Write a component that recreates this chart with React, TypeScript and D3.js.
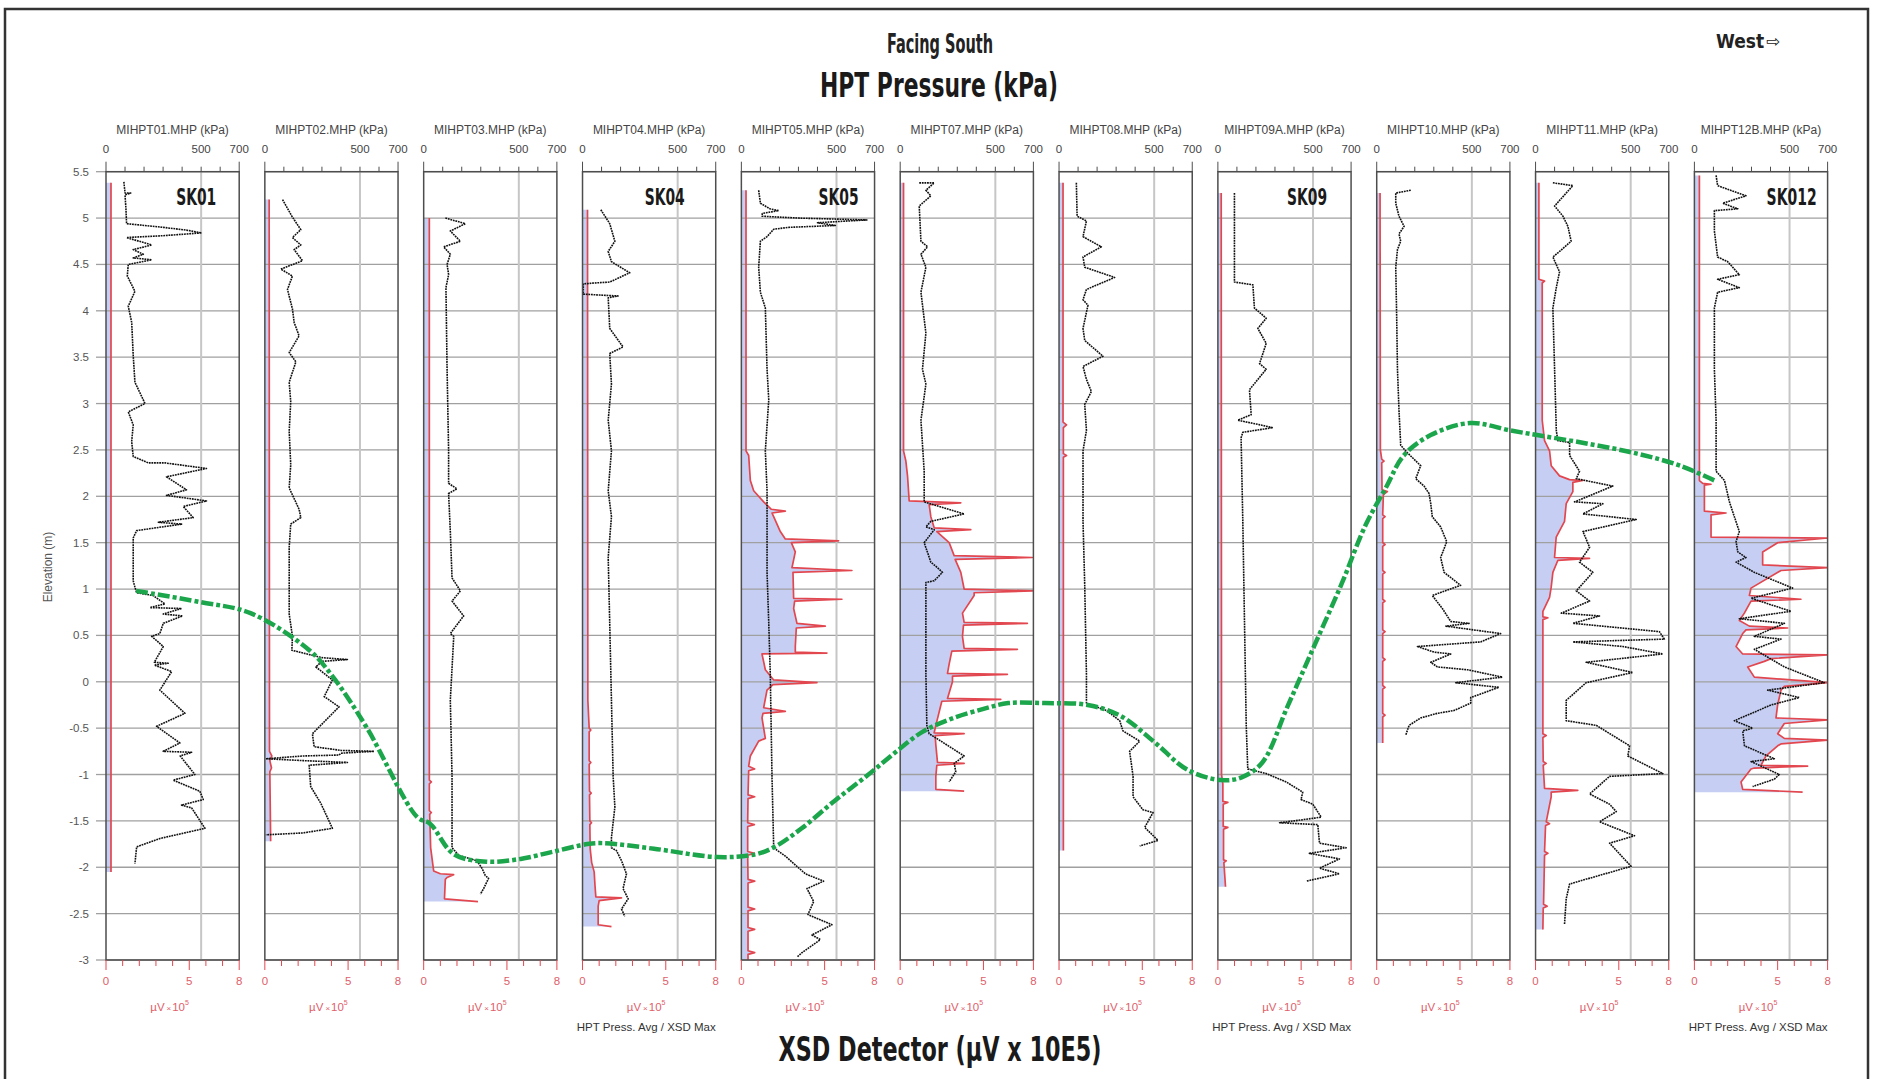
// HPT pressure / XSD detector cross-section, facing south.
// Eleven side-by-side boreholes sharing one elevation axis; each panel has a
// dotted pressure trace (kPa, top axis) and a filled XSD trace (µV x 10^5,
// bottom axis). A dash-dot contour links the HPT avg / XSD max pick across
// panels.
import * as d3 from "d3";

type Pt = [number, number];

const PANELS = ["MIHPT01", "MIHPT02", "MIHPT03", "MIHPT04", "MIHPT05", "MIHPT07", "MIHPT08", "MIHPT09A", "MIHPT10", "MIHPT11", "MIHPT12B"];
const SITE_LABELS: [string, number][] = [["SK01", 0], ["SK04", 3], ["SK05", 4], ["SK09", 7], ["SK012", 10]];
const FOOT_PANELS = [3, 7, 10];
const ELEV_TICKS = [5.5, 5, 4.5, 4, 3.5, 3, 2.5, 2, 1.5, 1, 0.5, 0, -0.5, -1, -1.5, -2, -2.5, -3];
const KPA_TICKS = [0, 100, 200, 300, 400, 500, 600, 700];
const KPA_LABELS = [0, 500, 700];
const UV_TICKS = [0, 1, 2, 3, 4, 5, 6, 7, 8];
const UV_LABELS = [0, 5, 8];

// [elevation m, kPa]
const hpt01: Pt[] = [[5.39,94],[5.27,100],[5.27,130],[5.25,100],[5.09,105],[4.94,108],[4.9,300],[4.87,423],[4.84,502],[4.81,300],[4.79,108],[4.71,240],[4.66,143],[4.61,196],[4.57,143],[4.55,240],[4.5,117],[4.375,112],[4.21,152],[4.05,117],[3.875,135],[3.52,143],[3.23,152],[3.0,205],[2.91,117],[2.77,143],[2.59,135],[2.43,143],[2.36,222],[2.36,310],[2.3,528],[2.21,318],[2.07,423],[2.01,318],[1.95,528],[1.89,406],[1.77,458],[1.72,275],[1.7,397],[1.63,161],[1.55,143],[1.09,143],[1.02,152],[0.96,161],[0.93,248],[0.84,310],[0.8,231],[0.79,397],[0.73,301],[0.71,402],[0.63,301],[0.52,283],[0.49,240],[0.38,301],[0.21,254],[0.2,327],[0.18,254],[0.11,345],[-0.09,283],[-0.34,415],[-0.48,266],[-0.66,388],[-0.75,301],[-0.76,450],[-0.8,390],[-1.0,467],[-1.06,353],[-1.18,493],[-1.27,511],[-1.33,397],[-1.36,450],[-1.58,520],[-1.69,283],[-1.78,161],[-1.96,152]];
const hpt02: Pt[] = [[5.2,93],[5.02,142],[4.875,189],[4.79,145],[4.71,189],[4.66,154],[4.54,198],[4.45,84],[4.375,145],[4.23,119],[4.02,145],[3.875,154],[3.73,180],[3.55,128],[3.45,163],[3.23,128],[3.02,136],[2.7,128],[2.34,136],[2.09,128],[1.86,180],[1.77,189],[1.7,136],[1.45,128],[0.73,128],[0.49,145],[0.34,142],[0.26,300],[0.24,434],[0.22,300],[0.16,268],[0.02,355],[-0.16,312],[-0.27,390],[-0.56,250],[-0.7,259],[-0.74,400],[-0.75,574],[-0.77,400],[-0.79,390],[-0.8,200],[-0.83,5],[-0.85,200],[-0.87,434],[-0.9,233],[-1.13,241],[-1.31,294],[-1.58,355],[-1.63,200],[-1.65,5]];
const hpt03: Pt[] = [[5.0,114],[4.94,219],[4.86,140],[4.75,193],[4.69,105],[4.61,140],[4.5,123],[4.39,131],[4.25,117],[3.37,123],[2.49,131],[2.14,131],[2.08,175],[2.03,131],[1.62,140],[1.12,149],[0.98,193],[0.87,149],[0.71,210],[0.52,140],[0.49,158],[-0.2,140],[-1.02,149],[-1.79,149],[-1.87,184],[-1.93,280],[-2.01,306],[-2.09,324],[-2.12,341],[-2.23,315],[-2.29,298]];
const hpt04: Pt[] = [[5.09,96],[4.94,143],[4.75,170],[4.64,135],[4.53,152],[4.41,248],[4.31,143],[4.3,60],[4.29,4],[4.18,4],[4.17,90],[4.16,187],[4.14,135],[3.81,143],[3.61,213],[3.54,143],[3.21,152],[2.82,135],[2.49,152],[2.06,135],[1.78,152],[1.34,135],[0.63,143],[-0.2,152],[-1.02,161],[-1.35,170],[-1.68,152],[-1.79,152],[-1.82,178],[-1.93,205],[-2.07,231],[-2.23,213],[-2.34,240],[-2.45,205],[-2.53,222]];
const hpt05: Pt[] = [[5.3,91],[5.16,100],[5.1,150],[5.08,196],[5.05,110],[5.02,109],[5.0,300],[4.98,660],[4.95,400],[4.92,494],[4.9,250],[4.88,170],[4.8,135],[4.75,100],[4.47,91],[4.2,100],[4.03,126],[3.37,135],[3.04,144],[2.49,126],[2.06,135],[1.18,135],[0.63,144],[0.08,152],[-1.02,161],[-1.79,170],[-1.88,231],[-2.07,336],[-2.15,432],[-2.23,345],[-2.37,380],[-2.51,350],[-2.62,476],[-2.73,371],[-2.78,415],[-2.92,319],[-2.97,292]];
const hpt07: Pt[] = [[5.38,100],[5.38,179],[5.3,135],[5.24,161],[5.13,100],[4.75,109],[4.69,144],[4.61,109],[4.47,135],[4.2,109],[3.76,135],[3.37,117],[3.21,135],[2.82,109],[2.27,126],[1.94,126],[1.81,336],[1.73,161],[1.67,135],[1.64,179],[1.5,126],[1.29,161],[1.23,196],[1.18,222],[1.09,179],[1.07,135],[0.08,135],[-0.47,140],[-0.56,152],[-0.64,214],[-0.8,336],[-0.88,284],[-0.97,292],[-1.08,257]];
const hpt08: Pt[] = [[5.38,91],[5.02,95],[4.97,144],[4.8,126],[4.69,222],[4.58,126],[4.47,135],[4.36,292],[4.23,144],[4.12,126],[4.06,152],[3.81,126],[3.68,135],[3.51,231],[3.4,126],[3.26,144],[3.13,170],[2.99,135],[2.71,144],[2.49,126],[1.73,126],[1.04,135],[0.08,144],[-0.23,144],[-0.31,249],[-0.42,319],[-0.53,336],[-0.64,424],[-0.75,371],[-1.02,389],[-1.24,389],[-1.38,441],[-1.41,494],[-1.57,450],[-1.71,520],[-1.77,424]];
const hpt09a: Pt[] = [[5.27,87],[4.31,87],[4.28,184],[4.03,192],[3.92,254],[3.81,210],[3.65,254],[3.43,219],[3.37,254],[3.26,210],[3.15,166],[2.88,175],[2.82,105],[2.78,200],[2.74,289],[2.69,131],[2.63,122],[1.73,131],[0.63,140],[-0.47,149],[-0.94,157],[-0.99,254],[-1.08,359],[-1.19,446],[-1.27,437],[-1.32,499],[-1.46,543],[-1.5,400],[-1.52,324],[-1.54,525],[-1.74,534],[-1.79,674],[-1.85,481],[-1.91,639],[-2.01,534],[-2.07,639],[-2.15,464]];
const hpt10: Pt[] = [[5.3,179],[5.27,100],[5.16,100],[5.02,117],[4.91,144],[4.83,117],[4.75,126],[4.66,109],[4.47,100],[3.92,105],[3.37,109],[2.93,117],[2.55,126],[2.47,161],[2.33,231],[2.19,205],[2.11,249],[2.03,275],[1.92,284],[1.78,292],[1.67,336],[1.51,368],[1.34,336],[1.18,354],[1.04,441],[0.93,292],[0.79,345],[0.65,389],[0.63,485],[0.6,364],[0.52,651],[0.43,546],[0.38,214],[0.32,301],[0.3,389],[0.21,284],[0.16,319],[0.13,476],[0.05,660],[-0.01,415],[-0.06,642],[-0.17,494],[-0.23,494],[-0.31,406],[-0.34,319],[-0.39,231],[-0.47,170],[-0.58,152]];
const hpt11: Pt[] = [[5.38,91],[5.35,196],[5.13,100],[5.02,144],[4.91,170],[4.75,187],[4.64,126],[4.58,91],[4.42,126],[4.25,109],[4.03,91],[3.37,100],[2.71,109],[2.6,117],[2.58,179],[2.44,179],[2.27,231],[2.19,214],[2.11,406],[1.94,205],[1.92,354],[1.81,249],[1.75,529],[1.62,249],[1.45,284],[1.29,231],[1.18,301],[0.98,214],[0.87,284],[0.74,135],[0.71,336],[0.63,196],[0.54,651],[0.46,677],[0.43,196],[0.38,459],[0.3,669],[0.21,266],[0.1,511],[-0.01,266],[-0.2,161],[-0.42,161],[-0.47,319],[-0.69,494],[-0.8,485],[-0.99,669],[-1.02,389],[-1.21,284],[-1.32,389],[-1.4,424],[-1.51,336],[-1.66,520],[-1.74,389],[-1.99,502],[-2.18,179],[-2.34,161],[-2.62,152]];
const hpt12b: Pt[] = [[5.46,114],[5.35,122],[5.24,271],[5.16,149],[5.1,228],[5.08,105],[4.86,105],[4.58,122],[4.53,175],[4.39,236],[4.34,122],[4.25,236],[4.2,122],[4.03,105],[3.37,105],[2.82,114],[2.27,114],[2.17,158],[1.94,184],[1.78,210],[1.62,236],[1.51,219],[1.4,228],[1.34,271],[1.29,219],[1.18,315],[1.01,516],[0.9,298],[0.76,508],[0.68,236],[0.63,473],[0.49,315],[0.46,455],[0.35,315],[0.16,473],[-0.01,683],[-0.09,385],[-0.17,551],[-0.25,403],[-0.42,210],[-0.5,306],[-0.53,254],[-0.69,263],[-0.83,420],[-0.86,298],[-1.0,446],[-1.05,420],[-1.13,306]];

// [elevation m, µV x 10^5]
const xsd01: Pt[] = [[5.38,0.3],[-2.05,0.3]];
const xsd02: Pt[] = [[5.2,0.26],[-0.75,0.28],[-0.8,0.42],[-0.85,0.3],[-0.93,0.4],[-0.97,0.3],[-1.72,0.35]];
const xsd03: Pt[] = [[5.0,0.34],[-1.06,0.34],[-1.08,0.46],[-1.1,0.34],[-1.39,0.34],[-1.41,0.46],[-1.43,0.36],[-1.79,0.42],[-2.04,0.6],[-2.07,1.0],[-2.08,1.8],[-2.11,1.4],[-2.13,1.3],[-2.34,1.25],[-2.37,3.26]];
const xsd04: Pt[] = [[5.09,0.3],[-0.2,0.32],[-0.5,0.4],[-0.52,0.5],[-0.54,0.4],[-0.85,0.4],[-0.87,0.5],[-0.89,0.4],[-1.18,0.42],[-1.2,0.52],[-1.22,0.42],[-1.5,0.44],[-1.52,0.54],[-1.54,0.44],[-1.8,0.46],[-1.95,0.55],[-2.05,0.7],[-2.2,0.75],[-2.32,0.8],[-2.33,2.34],[-2.36,1.0],[-2.42,0.94],[-2.62,0.94],[-2.64,1.74]];
const xsd05: Pt[] = [[5.3,0.28],[2.49,0.28],[2.44,0.44],[2.17,0.54],[2.06,0.74],[1.94,1.34],[1.86,1.8],[1.84,2.64],[1.82,1.84],[1.78,1.94],[1.62,2.34],[1.54,2.64],[1.52,5.84],[1.5,3.0],[1.4,3.24],[1.23,3.04],[1.2,6.64],[1.18,3.1],[0.9,3.14],[0.89,6.04],[0.87,3.2],[0.79,3.14],[0.63,3.34],[0.6,5.04],[0.58,3.3],[0.38,3.24],[0.32,3.24],[0.31,5.14],[0.3,1.24],[0.13,1.44],[0.02,1.94],[-0.01,4.54],[-0.03,1.9],[-0.09,1.54],[-0.28,1.34],[-0.32,2.64],[-0.34,1.3],[-0.39,1.24],[-0.61,1.44],[-0.64,1.04],[-0.8,0.54],[-0.91,0.44],[-0.94,0.8],[-0.96,0.44],[-1.22,0.4],[-1.24,0.8],[-1.26,0.4],[-1.52,0.38],[-1.54,0.78],[-1.56,0.38],[-1.83,0.38],[-1.85,0.78],[-1.87,0.38],[-2.13,0.4],[-2.15,0.8],[-2.17,0.4],[-2.43,0.4],[-2.45,0.8],[-2.47,0.4],[-2.65,0.4],[-2.67,0.8],[-2.69,0.4],[-2.9,0.4],[-2.92,0.8],[-2.94,0.4],[-3.0,0.4]];
const xsd07: Pt[] = [[5.38,0.2],[2.49,0.2],[2.38,0.34],[2.22,0.44],[1.95,0.54],[1.93,3.64],[1.91,1.74],[1.78,1.84],[1.66,2.04],[1.64,4.24],[1.62,2.2],[1.5,2.94],[1.36,3.24],[1.34,7.94],[1.32,3.3],[1.18,3.64],[1.0,3.84],[0.98,7.94],[0.96,4.44],[0.93,4.44],[0.74,3.74],[0.64,3.84],[0.63,7.64],[0.61,3.8],[0.49,3.74],[0.36,3.84],[0.35,7.04],[0.33,3.1],[0.19,2.94],[0.09,2.84],[0.08,6.44],[0.06,3.14],[0.0,3.14],[-0.18,2.84],[-0.19,6.04],[-0.21,2.5],[-0.47,2.14],[-0.55,2.04],[-0.56,3.84],[-0.58,2.1],[-0.68,2.14],[-0.87,2.24],[-0.88,3.84],[-0.9,2.2],[-1.02,2.14],[-1.16,2.14],[-1.18,3.84]];
const xsd08: Pt[] = [[5.38,0.24],[2.8,0.24],[2.77,0.45],[2.74,0.26],[2.46,0.26],[2.44,0.45],[2.42,0.26],[-1.82,0.26]];
const xsd09a: Pt[] = [[5.27,0.2],[-1.0,0.22],[-1.1,0.3],[-1.29,0.3],[-1.3,0.6],[-1.32,0.32],[-1.56,0.32],[-1.57,0.6],[-1.59,0.34],[-1.92,0.34],[-1.93,0.5],[-1.95,0.36],[-2.21,0.46]];
const xsd10: Pt[] = [[5.27,0.2],[2.5,0.22],[2.4,0.3],[2.38,0.44],[2.36,0.3],[2.07,0.32],[2.05,0.64],[2.02,0.4],[1.8,0.36],[1.78,0.5],[1.76,0.36],[1.5,0.36],[1.48,0.5],[1.46,0.36],[1.2,0.36],[1.18,0.5],[1.16,0.36],[0.89,0.36],[0.87,0.5],[0.85,0.36],[0.56,0.36],[0.54,0.5],[0.52,0.36],[0.26,0.36],[0.24,0.5],[0.22,0.36],[-0.04,0.36],[-0.06,0.5],[-0.08,0.36],[-0.34,0.36],[-0.36,0.5],[-0.38,0.36],[-0.66,0.36]];
const xsd11: Pt[] = [[5.38,0.2],[4.34,0.2],[4.32,0.54],[4.3,0.4],[2.82,0.4],[2.6,0.54],[2.49,0.84],[2.33,0.94],[2.22,1.44],[2.18,2.04],[2.17,2.84],[2.15,2.24],[2.05,2.24],[1.92,1.84],[1.73,1.74],[1.56,1.24],[1.34,1.14],[1.33,3.24],[1.31,1.34],[1.18,1.04],[1.02,0.94],[0.91,0.84],[0.76,0.44],[0.7,0.44],[0.69,0.74],[0.67,0.44],[0.52,0.44],[-0.56,0.44],[-0.58,0.64],[-0.6,0.44],[-0.86,0.46],[-0.88,0.64],[-0.9,0.46],[-1.15,0.54],[-1.17,2.54],[-1.19,0.94],[-1.24,0.94],[-1.51,0.64],[-1.53,0.84],[-1.55,0.6],[-1.83,0.54],[-1.85,0.74],[-1.87,0.54],[-2.4,0.48],[-2.42,0.7],[-2.44,0.46],[-2.67,0.44]];
const xsd12b: Pt[] = [[5.46,0.3],[2.17,0.3],[2.14,0.5],[2.13,1.0],[2.12,0.6],[1.84,0.6],[1.82,1.9],[1.8,1.0],[1.56,1.0],[1.55,8],[1.5,5.0],[1.4,4.1],[1.26,4.1],[1.23,8],[1.2,5.2],[1.01,3.4],[0.93,3.3],[0.89,6.4],[0.87,3.4],[0.74,3.0],[0.66,2.7],[0.6,3.3],[0.58,5.6],[0.56,3.1],[0.52,2.9],[0.38,2.5],[0.3,2.9],[0.29,8],[0.25,4.6],[0.22,4.2],[0.16,3.2],[0.05,3.6],[-0.01,8],[-0.05,5.4],[-0.09,5.2],[-0.25,5.0],[-0.39,4.9],[-0.41,8],[-0.45,5.4],[-0.56,5.0],[-0.61,5.4],[-0.63,8],[-0.67,5.2],[-0.69,5.0],[-0.8,4.3],[-0.9,4.0],[-0.91,6.8],[-0.93,3.6],[-0.94,3.4],[-1.08,2.8],[-1.16,2.9],[-1.19,6.5]];

// HPT avg / XSD max contour: [section position (panel index units), elevation m]
const contour: Pt[] = [[0.19,0.98],[0.59,0.86],[0.91,0.74],[1.28,0.34],[1.43,0.05],[1.64,-0.49],[1.96,-1.46],[2.04,-1.53],[2.19,-1.86],[2.4,-1.94],[2.61,-1.91],[2.82,-1.83],[3.03,-1.75],[3.13,-1.74],[3.45,-1.8],[3.85,-1.89],[4.09,-1.86],[4.21,-1.78],[4.38,-1.58],[4.59,-1.28],[4.8,-1.0],[4.97,-0.76],[5.14,-0.54],[5.32,-0.4],[5.53,-0.29],[5.68,-0.23],[5.91,-0.23],[6.18,-0.25],[6.39,-0.37],[6.6,-0.65],[6.81,-0.95],[7.02,-1.06],[7.15,-1.03],[7.28,-0.87],[7.44,-0.26],[7.61,0.4],[7.78,1.06],[7.93,1.69],[8.06,2.1],[8.17,2.44],[8.34,2.66],[8.59,2.79],[8.84,2.71],[9.01,2.66],[9.32,2.57],[9.64,2.46],[9.91,2.33],[10.14,2.16]];

const HPT = [hpt01, hpt02, hpt03, hpt04, hpt05, hpt07, hpt08, hpt09a, hpt10, hpt11, hpt12b];
const XSD = [xsd01, xsd02, xsd03, xsd04, xsd05, xsd07, xsd08, xsd09a, xsd10, xsd11, xsd12b];

// layout
const W = 1881;
const H = 1079;
const X0 = 106;
const PITCH = 158.84;
const PW = 133.2;
const Y_TOP = 171.7;
const Y_BOT = 960;
const SITE_NUDGE = [43, 51, 36, 44, 36];

const SANS = "'Liberation Sans', Arial, Helvetica, sans-serif";
const COND = "'Liberation Sans Narrow', 'DejaVu Sans Condensed', 'Roboto Condensed', 'Open Sans', sans-serif";
const RED = "#e2474f";
const RED_TXT = "#e0606a";
const GRID = "#a0a0a0";
const FRAME = "#4d4d4d";

export default function App() {
  const y = d3.scaleLinear().domain([-3, 5.5]).range([Y_BOT, Y_TOP]);
  const xs = d3.scaleLinear().domain([0, 11]).range([X0, X0 + 11 * PITCH]);

  const contourLine = d3
    .line<Pt>()
    .x((d) => xs(d[0]))
    .y((d) => y(d[1]))
    .curve(d3.curveCatmullRom.alpha(0.5));

  return (
    <>
      <style>{`body{margin:0;overflow:hidden;background:#fff}`}</style>
      <svg width={W} height={H} viewBox={`0 0 ${W} ${H}`} style={{ display: "block" }}>
        <rect x={0} y={0} width={W} height={H} fill="#fff" />
        <rect x={5} y={9} width={1863} height={1200} fill="none" stroke="#333" strokeWidth={2.5} />

        {/* titles */}
        <text x={940} y={53} textAnchor="middle" fontFamily={COND} fontWeight={700} fontSize={27} fill="#222" textLength={106} lengthAdjust="spacingAndGlyphs">Facing South</text>
        <text x={939} y={97} textAnchor="middle" fontFamily={COND} fontWeight={700} fontSize={33} fill="#1a1a1a" textLength={238} lengthAdjust="spacingAndGlyphs">HPT Pressure (kPa)</text>
        <text x={940} y={1061} textAnchor="middle" fontFamily={COND} fontWeight={700} fontSize={33} fill="#1a1a1a" textLength={323} lengthAdjust="spacingAndGlyphs">XSD Detector (µV x 10E5)</text>
        <text x={1716} y={48} fontFamily={COND} fontWeight={700} fontSize={19} fill="#222">West</text>
        <text x={1766} y={47} fontFamily="'DejaVu Sans', sans-serif" fontSize={17} fill="#222">⇨</text>

        {/* elevation axis */}
        {ELEV_TICKS.map((t) => (
          <g key={`yt${t}`}>
            <line x1={96} x2={X0} y1={y(t)} y2={y(t)} stroke={GRID} strokeWidth={1.3} />
            <text x={89} y={y(t)} dy="0.35em" textAnchor="end" fontFamily={SANS} fontSize={11.5} fill="#555">{String(t)}</text>
          </g>
        ))}
        <text transform={`translate(52,567) rotate(-90)`} textAnchor="middle" fontFamily={SANS} fontSize={12} fill="#555">Elevation (m)</text>

        <defs>
          {PANELS.map((_, i) => (
            <clipPath id={`pc${i}`} key={i}>
              <rect x={X0 + i * PITCH} y={Y_TOP} width={PW} height={Y_BOT - Y_TOP} />
            </clipPath>
          ))}
        </defs>

        {PANELS.map((name, i) => {
          const left = X0 + i * PITCH;
          const right = left + PW;
          const xk = d3.scaleLinear().domain([0, 700]).range([left, right]);
          const xv = d3.scaleLinear().domain([0, 8]).range([left, right]);
          const area = d3
            .area<Pt>()
            .y((d) => y(d[0]))
            .x0(xv(0))
            .x1((d) => xv(d[1]));
          const redLine = d3
            .line<Pt>()
            .x((d) => xv(d[1]))
            .y((d) => y(d[0]));
          const hptLine = d3
            .line<Pt>()
            .x((d) => xk(d[1]))
            .y((d) => y(d[0]));
          return (
            <g key={name}>
              <g clipPath={`url(#pc${i})`}>
                <path d={area(XSD[i]) ?? ""} fill="#c6cff3" />
              </g>
              {ELEV_TICKS.map((t) => (
                <line key={t} x1={left} x2={right} y1={y(t)} y2={y(t)} stroke={GRID} strokeWidth={1.3} />
              ))}
              <line x1={xk(500)} x2={xk(500)} y1={Y_TOP} y2={Y_BOT} stroke="#c6c6c6" strokeWidth={2} />
              <g clipPath={`url(#pc${i})`}>
                <path d={redLine(XSD[i]) ?? ""} fill="none" stroke={RED} strokeWidth={1.7} strokeLinejoin="round" />
                <path d={hptLine(HPT[i]) ?? ""} fill="none" stroke="#111" strokeWidth={1.6} strokeDasharray="1.8 0.8" strokeLinejoin="round" />
              </g>
              {/* frame */}
              <rect x={left} y={Y_TOP} width={PW} height={Y_BOT - Y_TOP} fill="none" stroke={FRAME} strokeWidth={1.5} />

              {/* top kPa axis */}
              {KPA_TICKS.map((t) => (
                <line key={`k${t}`} x1={xk(t)} x2={xk(t)} y1={Y_TOP} y2={Y_TOP - (t === 0 || t === 700 ? 10 : 5)} stroke={FRAME} strokeWidth={1} />
              ))}
              {KPA_LABELS.map((t) => (
                <text key={`kl${t}`} x={xk(t)} y={153} textAnchor="middle" fontFamily={SANS} fontSize={11.5} fill="#444">{t}</text>
              ))}
              <text x={(left + right) / 2} y={134} textAnchor="middle" fontFamily={SANS} fontSize={12} fill="#444">{`${name}.MHP (kPa)`}</text>

              {/* bottom µV axis */}
              {UV_TICKS.map((t) => (
                <line key={`u${t}`} x1={xv(t)} x2={xv(t)} y1={Y_BOT} y2={Y_BOT + (t === 0 || t === 5 || t === 8 ? 10 : 6)} stroke={RED} strokeWidth={1} />
              ))}
              {UV_LABELS.map((t) => (
                <text key={`ul${t}`} x={xv(t)} y={985} textAnchor="middle" fontFamily={SANS} fontSize={11.5} fill={RED_TXT}>{t}</text>
              ))}
              <text x={(left + right) / 2 - 3} y={1011} textAnchor="middle" fontFamily={SANS} fontSize={11.5} fill={RED_TXT}>
                µV<tspan fontSize={8} dx={2}>×</tspan><tspan dx={1}>10</tspan><tspan fontSize={7} dy={-6}>5</tspan>
              </text>
              {FOOT_PANELS.includes(i) && (
                <text x={right} y={1031} textAnchor="end" fontFamily={SANS} fontSize={11.5} fill="#333">HPT Press. Avg / XSD Max</text>
              )}
            </g>
          );
        })}

        {/* borehole site labels */}
        {SITE_LABELS.map(([label, p], k) => (
          <text key={label} x={X0 + p * PITCH + PW - SITE_NUDGE[k]} y={205} textAnchor="middle" fontFamily={COND} fontWeight={700} fontSize={23} fill="#1a1a1a" textLength={label.length * 10} lengthAdjust="spacingAndGlyphs">{label}</text>
        ))}

        {/* HPT avg / XSD max contour */}
        <path d={contourLine(contour) ?? ""} fill="none" stroke="#1ca64c" strokeWidth={4.5} strokeDasharray="12 3 4 3" strokeLinecap="butt" />
      </svg>
    </>
  );
}
